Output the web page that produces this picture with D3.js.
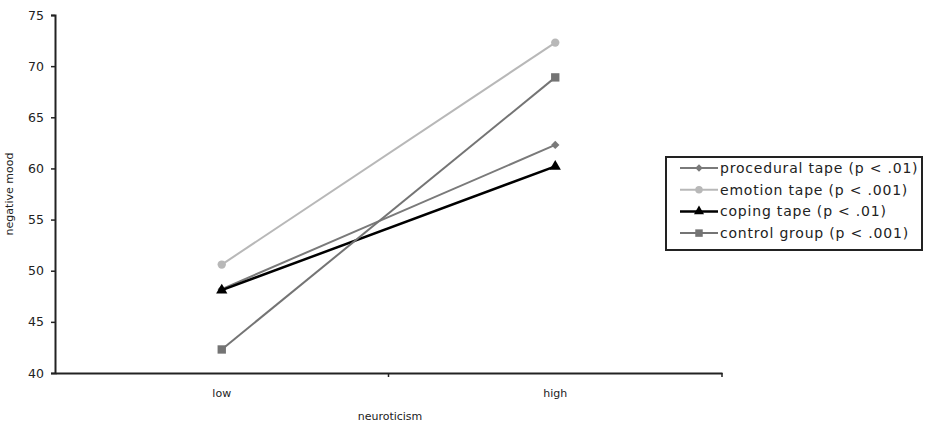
<!DOCTYPE html>
<html><head><meta charset="utf-8">
<script src="https://cdn.jsdelivr.net/npm/d3@7"></script>
<style>body{margin:0;background:#fff}svg{display:block}text{font-family:"DejaVu Sans",Verdana,sans-serif}</style>
</head><body><svg id="c" width="927" height="423"></svg>
<script>
const categories = ["low", "high"];
const seriesNames = ["procedural tape (p < .01)", "emotion tape (p < .001)", "coping tape (p < .01)", "control group (p < .001)"];
const procedural = [48.2, 62.3];
const emotion = [50.6, 72.3];
const coping = [48.1, 60.2];
const control = [42.3, 68.9];
const yTicks = [40, 45, 50, 55, 60, 65, 70, 75];
const colors = ["#7a7a7a", "#b8b8b8", "#000000", "#747474"];
const symbols = [d3.symbolDiamond2 || d3.symbolDiamond, d3.symbolCircle, d3.symbolTriangle, d3.symbolSquare];
const symSizes = [45, 55, 55, 70];
const allValues = [procedural, emotion, coping, control];

const svg = d3.select("#c");
const x = d3.scaleBand().domain(categories).range([55, 722]);
const y = d3.scaleLinear().domain([40, 75]).range([373, 15]);

// axes
const yAxis = svg.append("g").attr("transform", "translate(55,0)")
  .call(d3.axisLeft(y).tickValues(yTicks).tickSize(4).tickPadding(7));
yAxis.select(".domain").attr("stroke", "#222").attr("stroke-width", 2);
yAxis.selectAll(".tick line").attr("stroke", "#222").attr("stroke-width", 1.5);
yAxis.selectAll("text").attr("font-size", 12.5).attr("fill", "#222");

const xAxis = svg.append("g").attr("transform", "translate(0,373)")
  .call(d3.axisBottom(x).tickSize(0).tickPadding(16));
xAxis.select(".domain").attr("stroke", "#222").attr("stroke-width", 2);
xAxis.selectAll("text").attr("font-size", 11).attr("fill", "#222");
// category boundary ticks
const bounds = [x.range()[0] + x.bandwidth(), x.range()[1]];
xAxis.selectAll(".bt").data(bounds).enter().append("line")
  .attr("x1", d => d).attr("x2", d => d).attr("y1", 0).attr("y2", 4)
  .attr("stroke", "#222").attr("stroke-width", 1.5);

svg.append("text").attr("x", 390).attr("y", 420).attr("text-anchor", "middle")
  .attr("font-size", 11).attr("fill", "#222").text("neuroticism");
svg.append("text").attr("transform", "translate(13,194) rotate(-90)").attr("text-anchor", "middle")
  .attr("font-size", 11).attr("fill", "#222").text("negative mood");

const cx = c => x(c) + x.bandwidth() / 2;
const line = d3.line().x((d, i) => cx(categories[i])).y(d => y(d));

allValues.forEach((vals, si) => {
  const g = svg.append("g");
  g.append("path").attr("d", line(vals)).attr("fill", "none")
    .attr("stroke", colors[si]).attr("stroke-width", si === 2 ? 2.5 : 2);
  vals.forEach((v, i) => {
    g.append("path").attr("d", d3.symbol().type(symbols[si]).size(symSizes[si])())
      .attr("transform", `translate(${cx(categories[i])},${y(v)})`).attr("fill", colors[si]);
  });
});

// legend
const lg = svg.append("g");
lg.append("rect").attr("x", 666).attr("y", 157).attr("width", 256).attr("height", 93)
  .attr("fill", "#fff").attr("stroke", "#222").attr("stroke-width", 2);
seriesNames.forEach((name, i) => {
  const yy = 168 + i * 21.7;
  lg.append("line").attr("x1", 680).attr("x2", 718).attr("y1", yy).attr("y2", yy)
    .attr("stroke", colors[i]).attr("stroke-width", i === 2 ? 2.5 : 2);
  lg.append("path").attr("d", d3.symbol().type(symbols[i]).size(symSizes[i] * 0.8)())
    .attr("transform", `translate(699,${yy})`).attr("fill", colors[i]);
  lg.append("text").attr("x", 720).attr("y", yy + 5).attr("font-size", 14)
    .attr("letter-spacing", 0.8).attr("fill", "#222").text(name);
});
</script></body></html>
